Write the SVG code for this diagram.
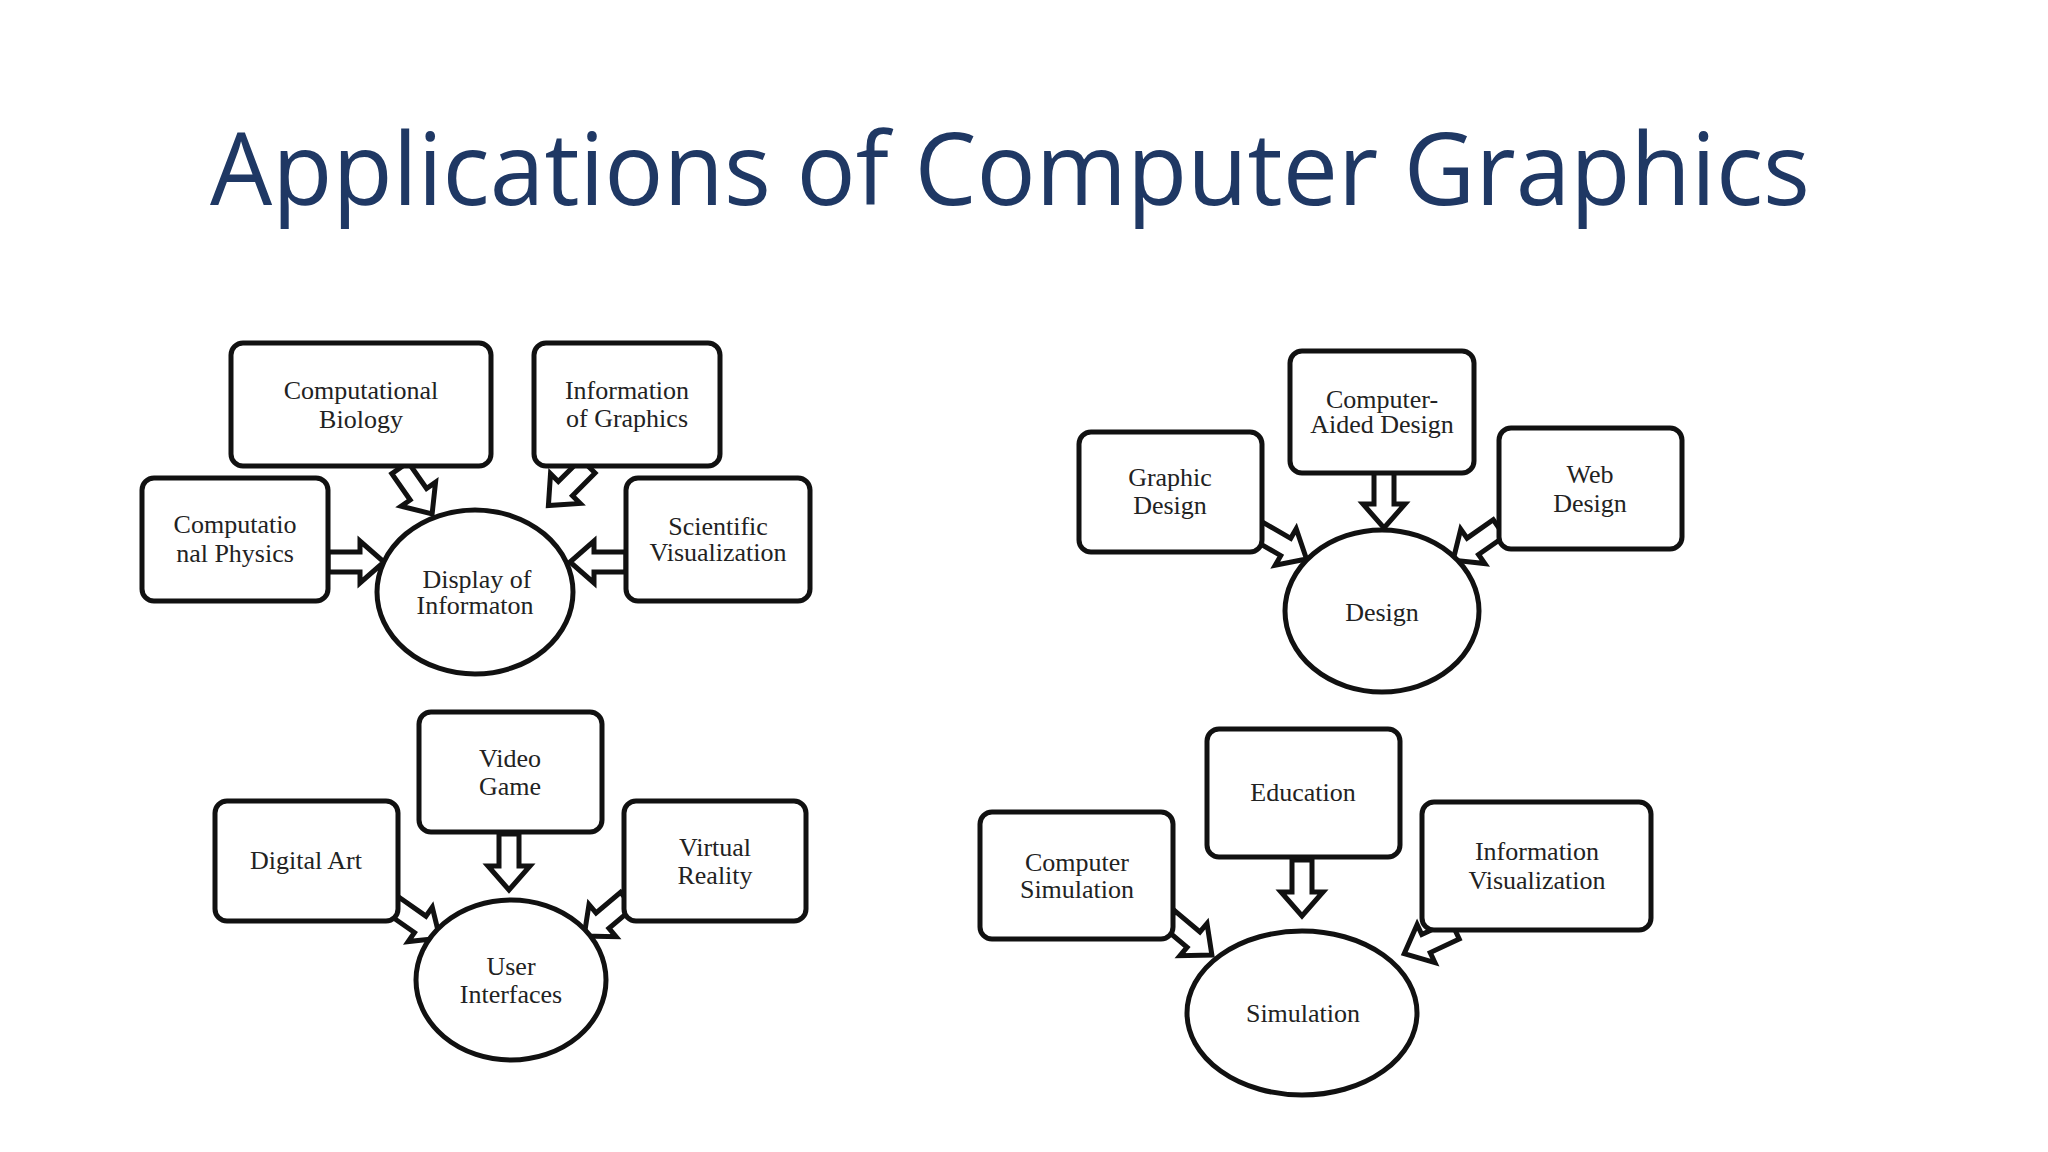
<svg xmlns="http://www.w3.org/2000/svg" xmlns:xlink="http://www.w3.org/1999/xlink" width="2048" height="1152" viewBox="0 0 2048 1152">
<style>
.b{fill:#fff;stroke:#111;stroke-width:5}
.t{font-family:"Liberation Serif",serif;font-size:26px;fill:#222;text-anchor:middle}
.a{fill:#fff;stroke:#111;stroke-width:5;stroke-linejoin:miter}
</style>
<defs>
<path id="arr" class="a" d="M0,-10 L32,-10 L32,-21 L56,0 L32,21 L32,10 L0,10 Z"/>
</defs>
<rect width="2048" height="1152" fill="#fff"/>
<text x="1010" y="205" font-family="'Open Sans',sans-serif" font-size="100" fill="#1F3864" text-anchor="middle" textLength="1600" lengthAdjust="spacingAndGlyphs">Applications of Computer Graphics</text>

<g id="connectors">
<use href="#arr" transform="translate(400,468) rotate(55)"/>
<use href="#arr" transform="translate(588,466) rotate(135)"/>
<use href="#arr" transform="translate(328,562)"/>
<use href="#arr" transform="translate(626,562) rotate(180)"/>
<use href="#arr" transform="translate(1258,531) rotate(30)"/>
<use href="#arr" transform="translate(1384,472) rotate(90)"/>
<use href="#arr" transform="translate(1499,528) rotate(145)"/>
<use href="#arr" transform="translate(394,906) rotate(35)"/>
<use href="#arr" transform="translate(509,834) rotate(90)"/>
<use href="#arr" transform="translate(627,900) rotate(140)"/>
<use href="#arr" transform="translate(1169,919) rotate(40)"/>
<use href="#arr" transform="translate(1302,860) rotate(90)"/>
<use href="#arr" transform="translate(1455,930) rotate(155)"/>
</g>

<g id="n-bio"><rect class="b" x="231" y="343" width="260" height="123" rx="12"/><text class="t" x="361" y="399">Computational</text><text class="t" x="361" y="428">Biology</text></g>
<g id="n-infog"><rect class="b" x="534" y="343" width="186" height="123" rx="12"/><text class="t" x="627" y="399" font-size="24">Information</text><text class="t" x="627" y="427">of Graphics</text></g>
<g id="n-phys"><rect class="b" x="142" y="478" width="186" height="123" rx="12"/><text class="t" x="235" y="533">Computatio</text><text class="t" x="235" y="562" font-size="24">nal  Physics</text></g>
<g id="n-sci"><rect class="b" x="626" y="478" width="184" height="123" rx="12"/><text class="t" x="718" y="535">Scientific</text><text class="t" x="718" y="561" font-size="24">Visualization</text></g>
<g id="n-disp"><ellipse class="b" cx="475" cy="592" rx="98" ry="82"/><text class="t" x="477" y="588" font-size="24">Display of</text><text class="t" x="475" y="614" font-size="24">Informaton</text></g>

<g id="n-gd"><rect class="b" x="1079" y="432" width="183" height="120" rx="12"/><text class="t" x="1170" y="486">Graphic</text><text class="t" x="1170" y="514">Design</text></g>
<g id="n-cad"><rect class="b" x="1290" y="351" width="184" height="122" rx="12"/><text class="t" x="1382" y="408" font-size="24">Computer-</text><text class="t" x="1382" y="433" font-size="24">Aided Design</text></g>
<g id="n-web"><rect class="b" x="1499" y="428" width="183" height="121" rx="12"/><text class="t" x="1590" y="483">Web</text><text class="t" x="1590" y="512">Design</text></g>
<g id="n-design"><ellipse class="b" cx="1382" cy="611" rx="97" ry="81"/><text class="t" x="1382" y="621">Design</text></g>

<g id="n-da"><rect class="b" x="215" y="801" width="183" height="120" rx="12"/><text class="t" x="306" y="869">Digital Art</text></g>
<g id="n-vg"><rect class="b" x="419" y="712" width="183" height="120" rx="12"/><text class="t" x="510" y="767">Video</text><text class="t" x="510" y="795">Game</text></g>
<g id="n-vr"><rect class="b" x="624" y="801" width="182" height="120" rx="12"/><text class="t" x="715" y="856">Virtual</text><text class="t" x="715" y="884">Reality</text></g>
<g id="n-ui"><ellipse class="b" cx="511" cy="980" rx="95" ry="80"/><text class="t" x="511" y="975">User</text><text class="t" x="511" y="1003">Interfaces</text></g>

<g id="n-cs"><rect class="b" x="980" y="812" width="193" height="127" rx="12"/><text class="t" x="1077" y="871">Computer</text><text class="t" x="1077" y="898">Simulation</text></g>
<g id="n-edu"><rect class="b" x="1207" y="729" width="193" height="128" rx="12"/><text class="t" x="1303" y="801">Education</text></g>
<g id="n-iv"><rect class="b" x="1422" y="802" width="229" height="128" rx="12"/><text class="t" x="1537" y="860">Information</text><text class="t" x="1537" y="889">Visualization</text></g>
<g id="n-sim"><ellipse class="b" cx="1302" cy="1013" rx="115" ry="82"/><text class="t" x="1303" y="1022">Simulation</text></g>
</svg>
